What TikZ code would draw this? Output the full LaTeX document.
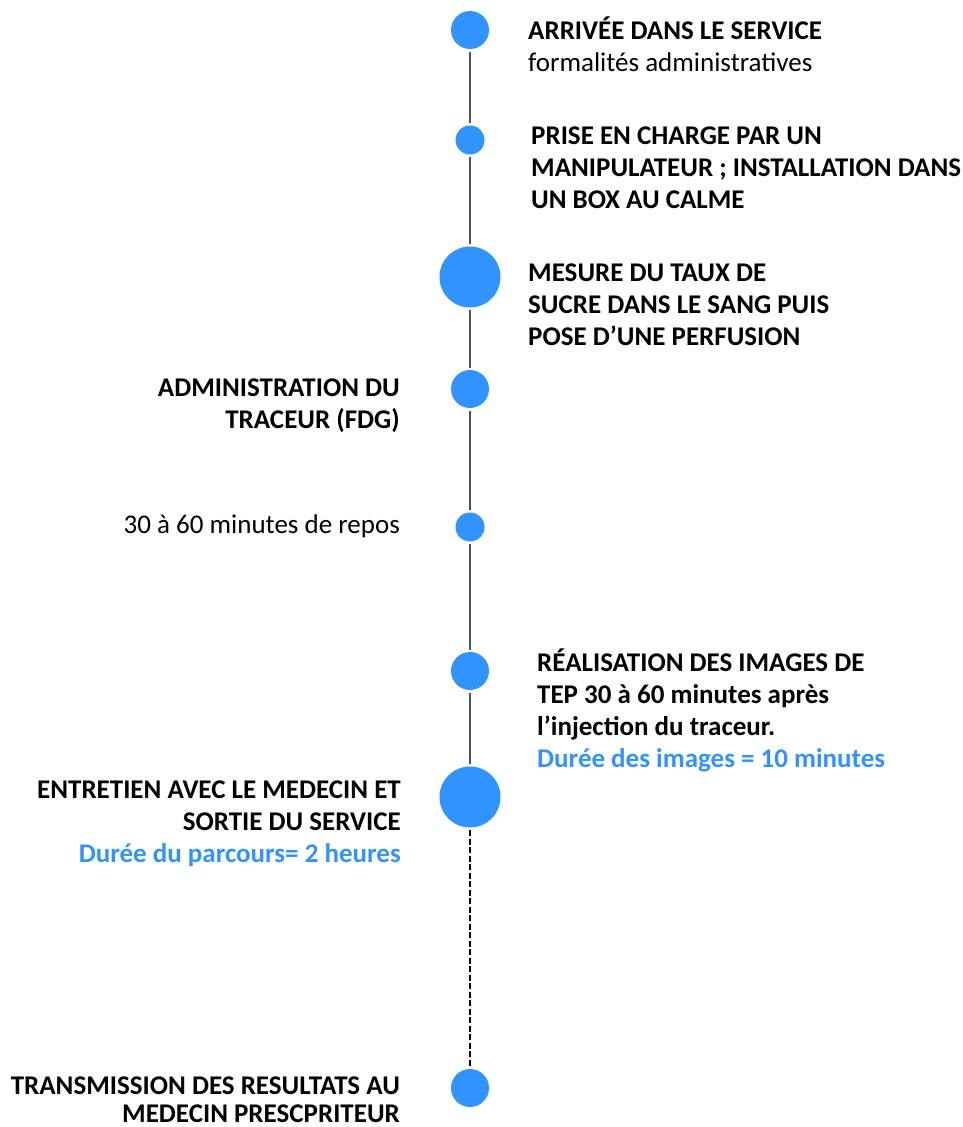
\documentclass[tikz,border=0pt]{standalone}
\usepackage{fontspec}
\setmainfont{Carlito}
\definecolor{dotblue}{HTML}{3193FF}
\definecolor{linegrey}{HTML}{44546A}
\begin{document}
\begin{tikzpicture}[x=1pt,y=-1pt,
  dot/.style={circle,fill=dotblue,draw=none,inner sep=0pt,outer sep=2.5pt,minimum size=#1},
  tl/.style={draw=linegrey,line width=1.8pt},
  dl/.style={draw=black,line width=1.8pt,dash pattern=on 6pt off 2.5pt},
  rtext/.style={inner sep=0pt,align=left,anchor=base west,font=\fontsize{27}{32}\selectfont},
  ltext/.style={inner sep=0pt,align=right,anchor=base east,font=\fontsize{27}{32}\selectfont}]
\useasboundingbox (0,0) rectangle (963,1127);
\node[dot=38pt] (c1) at (470,30) {};
\node[dot=29pt] (c2) at (470,140) {};
\node[dot=61pt] (c3) at (470,277) {};
\node[dot=38pt] (c4) at (470,389) {};
\node[dot=29pt] (c5) at (470,527) {};
\node[dot=38pt] (c6) at (470,671) {};
\node[dot=61pt] (c7) at (470,797) {};
\node[dot=38pt] (c8) at (470,1088) {};
\draw[tl] (c1) -- (c2);
\draw[tl] (c2) -- (c3);
\draw[tl] (c3) -- (c4);
\draw[tl] (c4) -- (c5);
\draw[tl] (c5) -- (c6);
\draw[tl] (c6) -- (c7);
\draw[dl] (c7) -- (c8);
\node[rtext] (t1) at (528,71) {\textbf{ARRIVÉE DANS LE SERVICE}\\formalités administratives};
\node[rtext] (t2) at (531,208) {\textbf{PRISE EN CHARGE PAR UN}\\\textbf{MANIPULATEUR ; INSTALLATION DANS}\\\textbf{UN BOX AU CALME}};
\node[rtext] (t3) at (528,345) {\textbf{MESURE DU TAUX DE}\\\textbf{SUCRE DANS LE SANG PUIS}\\\textbf{POSE D’UNE PERFUSION}};
\node[ltext] (t4) at (400,428) {\textbf{ADMINISTRATION DU}\\\textbf{TRACEUR (FDG)}};
\node[ltext] (t5) at (400,533) {30 à 60 minutes de repos};
\node[rtext] (t6) at (537,767) {\textbf{RÉALISATION DES IMAGES DE}\\\textbf{TEP 30 à 60 minutes après}\\\textbf{l’injection du traceur.}\\\textcolor{dotblue}{\textbf{Durée des images = 10 minutes}}};
\node[ltext] (t7) at (401,862) {\textbf{ENTRETIEN AVEC LE MEDECIN ET}\\\textbf{SORTIE DU SERVICE}\\\textcolor{dotblue}{\textbf{Durée du parcours= 2 heures}}};
\node[ltext,font=\fontsize{27}{28}\selectfont] (t8) at (400,1122) {\textbf{TRANSMISSION DES RESULTATS AU}\\\textbf{MEDECIN PRESCPRITEUR}};
\end{tikzpicture}
\end{document}
